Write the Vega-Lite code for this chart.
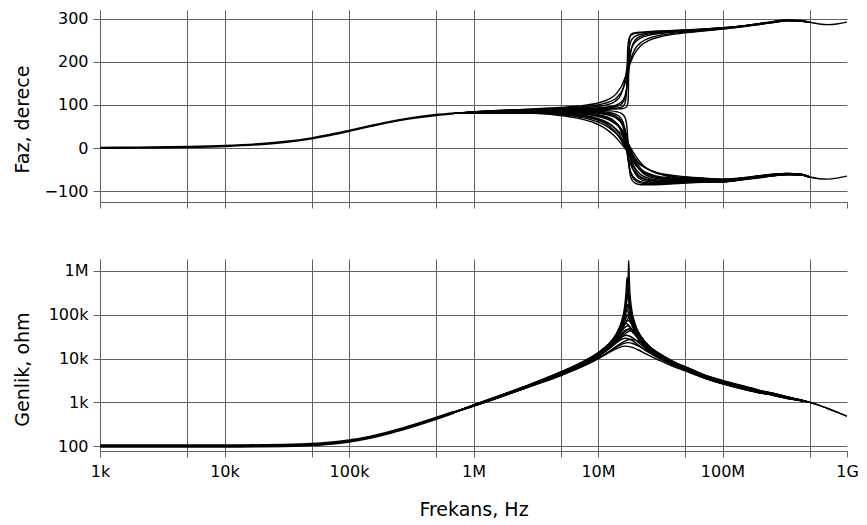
{
  "$schema": "https://vega.github.io/schema/vega-lite/v6.json",
  "padding": {"left": 12, "top": 10, "right": 5, "bottom": 5},
  "background": "white",
  "config": {
    "view": {"stroke": null},
    "font": "DejaVu Sans",
    "axis": {
      "labelFont": "DejaVu Sans", "labelFontSize": 16, "labelColor": "#000",
      "titleFont": "DejaVu Sans", "titleFontSize": 19, "titleFontWeight": "normal", "titleColor": "#000",
      "gridColor": "#616161", "gridOpacity": 1, "gridWidth": 1,
      "domainColor": "#616161", "tickColor": "#616161", "domainWidth": 1, "tickWidth": 1,
      "labelFlush": false, "labelOverlap": false
    }
  },
  "data": {"values": [
    {"r":0,"f":1000,"p":0.48,"m":100},{"r":0,"f":2000,"p":0.95,"m":100},{"r":0,"f":5000,"p":2.39,"m":100.1},{"r":0,"f":10000,"p":4.76,"m":100.3},{"r":0,"f":20000,"p":9.46,"m":101.4},{"r":0,"f":30000,"p":14.04,"m":103.1},{"r":0,"f":50000,"p":22.6,"m":108.3},{"r":0,"f":70000,"p":30.3,"m":115.8},{"r":0,"f":100000,"p":39.8,"m":130.2},{"r":0,"f":150000,"p":51.3,"m":160.1},{"r":0,"f":200000,"p":59,"m":194.4},{"r":0,"f":300000,"p":68.2,"m":269.3},{"r":0,"f":500000,"p":76.5,"m":428.5},{"r":0,"f":700000,"p":80.3,"m":591.9},

    {"r":1,"f":7e5,"p":80.3,"m":592},{"r":1,"f":1e6,"p":80.8,"m":817},{"r":1,"f":3e6,"p":80.4,"m":2405},{"r":1,"f":4.75e6,"p":75.9,"m":3836},{"r":1,"f":6.65e6,"p":69.95,"m":5638},{"r":1,"f":9.5e6,"p":57.5,"m":9094},{"r":1,"f":1.14e7,"p":45.75,"m":12184},{"r":1,"f":1.33e7,"p":30.35,"m":15641},{"r":1,"f":1.4725e7,"p":16.7,"m":17774},{"r":1,"f":1.6435e7,"p":-0.4,"m":19175},{"r":1,"f":1.8525e7,"p":-18.9,"m":18176},{"r":1,"f":2.09e7,"p":-34.5,"m":15860},{"r":1,"f":2.47e7,"p":-47.8,"m":12442},{"r":1,"f":3.04e7,"p":-57.6,"m":9365},{"r":1,"f":4e7,"p":-63.4,"m":6595},{"r":1,"f":5e7,"p":-66.4,"m":5244},{"r":1,"f":7e7,"p":-69.5,"m":3640},{"r":1,"f":1e8,"p":-71.8,"m":2639},{"r":1,"f":1.5e8,"p":-68.3,"m":1957},{"r":1,"f":2e8,"p":-63.8,"m":1628},{"r":1,"f":2.5e8,"p":-60.8,"m":1457},{"r":1,"f":3.3e8,"p":-58.6,"m":1222},{"r":1,"f":4.2e8,"p":-60.2,"m":1098},{"r":1,"f":5e8,"p":-67,"m":1000},

    {"r":2,"f":7e5,"p":80.3,"m":592},{"r":2,"f":1e6,"p":81.3,"m":823},{"r":2,"f":3e6,"p":82,"m":2451},{"r":2,"f":5.3e6,"p":78.7,"m":4429},{"r":2,"f":7.42e6,"p":74,"m":6606},{"r":2,"f":1.06e7,"p":63.6,"m":11054},{"r":2,"f":1.272e7,"p":52.8,"m":15418},{"r":2,"f":1.484e7,"p":37,"m":21001},{"r":2,"f":1.643e7,"p":21.2,"m":24997},{"r":2,"f":1.8338e7,"p":-0.4,"m":27506},{"r":2,"f":2.067e7,"p":-23.7,"m":25253},{"r":2,"f":2.332e7,"p":-41.45,"m":20716},{"r":2,"f":2.756e7,"p":-54.7,"m":15206},{"r":2,"f":3.392e7,"p":-63.2,"m":10986},{"r":2,"f":4e7,"p":-67.7,"m":8465},{"r":2,"f":5e7,"p":-69.8,"m":5978},{"r":2,"f":7e7,"p":-71.6,"m":3730},{"r":2,"f":1e8,"p":-73.4,"m":2704},{"r":2,"f":1.5e8,"p":-69.3,"m":2005},{"r":2,"f":2e8,"p":-64.5,"m":1658},{"r":2,"f":2.5e8,"p":-61.4,"m":1480},{"r":2,"f":3.3e8,"p":-59.1,"m":1237},{"r":2,"f":4.2e8,"p":-60.5,"m":1103},{"r":2,"f":5e8,"p":-67,"m":1000},

    {"r":3,"f":7e5,"p":80.3,"m":592},{"r":3,"f":1e6,"p":81.8,"m":829},{"r":3,"f":3e6,"p":83.45,"m":2495},{"r":3,"f":4.9e6,"p":81.1,"m":4220},{"r":3,"f":6.86e6,"p":77.6,"m":6367},{"r":3,"f":9.8e6,"p":69.4,"m":10958},{"r":3,"f":1.176e7,"p":60.3,"m":15841},{"r":3,"f":1.372e7,"p":45.2,"m":23104},{"r":3,"f":1.519e7,"p":27.4,"m":29525},{"r":3,"f":1.617e7,"p":12.4,"m":33067},{"r":3,"f":1.6954e7,"p":-0.4,"m":33906},{"r":3,"f":1.911e7,"p":-30.3,"m":29382},{"r":3,"f":2.156e7,"p":-49.7,"m":22088},{"r":3,"f":2.548e7,"p":-61.8,"m":15105},{"r":3,"f":3.136e7,"p":-68.55,"m":10540},{"r":3,"f":4e7,"p":-71.7,"m":7405},{"r":3,"f":5e7,"p":-72.8,"m":5645},{"r":3,"f":7e7,"p":-73.8,"m":3820},{"r":3,"f":1e8,"p":-74.8,"m":2770},{"r":3,"f":1.5e8,"p":-70.2,"m":2053},{"r":3,"f":2e8,"p":-65.2,"m":1689},{"r":3,"f":2.5e8,"p":-62,"m":1504},{"r":3,"f":3.3e8,"p":-59.6,"m":1251},{"r":3,"f":4.2e8,"p":-60.8,"m":1109},{"r":3,"f":5e8,"p":-67,"m":1000},

    {"r":4,"f":7e5,"p":80.3,"m":592},{"r":4,"f":1e6,"p":82.1,"m":836},{"r":4,"f":3e6,"p":84.5,"m":2536},{"r":4,"f":5.2e6,"p":83,"m":4601},{"r":4,"f":7.28e6,"p":80.4,"m":6995},{"r":4,"f":1.04e7,"p":74.1,"m":12249},{"r":4,"f":1.248e7,"p":66.8,"m":18125},{"r":4,"f":1.456e7,"p":53.3,"m":28002},{"r":4,"f":1.612e7,"p":34.7,"m":38928},{"r":4,"f":1.716e7,"p":16.4,"m":45907},{"r":4,"f":1.7992e7,"p":-0.4,"m":47979},{"r":4,"f":1.8928e7,"p":-18.4,"m":45628},{"r":4,"f":2.028e7,"p":-37.9,"m":38055},{"r":4,"f":2.288e7,"p":-57.5,"m":25973},{"r":4,"f":2.704e7,"p":-67.8,"m":16772},{"r":4,"f":3.328e7,"p":-72.8,"m":11445},{"r":4,"f":4e7,"p":-74.7,"m":8469},{"r":4,"f":5e7,"p":-75.1,"m":6115},{"r":4,"f":7e7,"p":-75.4,"m":3910},{"r":4,"f":1e8,"p":-75.9,"m":2835},{"r":4,"f":1.5e8,"p":-70.9,"m":2102},{"r":4,"f":2e8,"p":-65.9,"m":1719},{"r":4,"f":2.5e8,"p":-62.6,"m":1527},{"r":4,"f":3.3e8,"p":-60.1,"m":1266},{"r":4,"f":4.2e8,"p":-61.1,"m":1114},{"r":4,"f":5e8,"p":-67,"m":1000},

    {"r":5,"f":7e5,"p":80.3,"m":592},{"r":5,"f":1e6,"p":82.4,"m":842},{"r":5,"f":3e6,"p":85.4,"m":2578},{"r":5,"f":4.85e6,"p":84.6,"m":4401},{"r":5,"f":6.79e6,"p":82.9,"m":6728},{"r":5,"f":9.7e6,"p":78.4,"m":11920},{"r":5,"f":1.164e7,"p":72.9,"m":17920},{"r":5,"f":1.358e7,"p":62,"m":29084},{"r":5,"f":1.5035e7,"p":44.3,"m":44701},{"r":5,"f":1.6005e7,"p":22.7,"m":57889},{"r":5,"f":1.649e7,"p":8.5,"m":62153},{"r":5,"f":1.6781e7,"p":-0.4,"m":62937},{"r":5,"f":1.7072e7,"p":-9.2,"m":62181},{"r":5,"f":1.7654e7,"p":-24.9,"m":57246},{"r":5,"f":1.8915e7,"p":-47.55,"m":42752},{"r":5,"f":2.134e7,"p":-65.7,"m":26198},{"r":5,"f":2.522e7,"p":-73.4,"m":16138},{"r":5,"f":3.104e7,"p":-76.6,"m":10848},{"r":5,"f":4e7,"p":-77.4,"m":7454},{"r":5,"f":5e7,"p":-77.1,"m":5820},{"r":5,"f":7e7,"p":-76.75,"m":4000},{"r":5,"f":1e8,"p":-76.8,"m":2900},{"r":5,"f":1.5e8,"p":-71.5,"m":2150},{"r":5,"f":2e8,"p":-66.6,"m":1750},{"r":5,"f":2.5e8,"p":-63.2,"m":1550},{"r":5,"f":3.3e8,"p":-60.6,"m":1280},{"r":5,"f":4.2e8,"p":-61.4,"m":1120},{"r":5,"f":5e8,"p":-67,"m":1000},

    {"r":6,"f":7e5,"p":80.3,"m":592},{"r":6,"f":1e6,"p":82.7,"m":848},{"r":6,"f":3e6,"p":86.25,"m":2618},{"r":6,"f":5.1e6,"p":86.05,"m":4738},{"r":6,"f":7.14e6,"p":85.1,"m":7276},{"r":6,"f":1.02e7,"p":82.2,"m":12986},{"r":6,"f":1.224e7,"p":78.6,"m":19697},{"r":6,"f":1.428e7,"p":71,"m":33111},{"r":6,"f":1.581e7,"p":56.56,"m":56462},{"r":6,"f":1.683e7,"p":33.1,"m":85780},{"r":6,"f":1.734e7,"p":13.35,"m":100001},{"r":6,"f":1.7646e7,"p":-0.4,"m":102907},{"r":6,"f":1.7952e7,"p":-13.9,"m":100136},{"r":6,"f":1.8564e7,"p":-35.8,"m":83896},{"r":6,"f":1.989e7,"p":-59.6,"m":52652},{"r":6,"f":2.244e7,"p":-73.9,"m":29064},{"r":6,"f":2.652e7,"p":-78.6,"m":17307},{"r":6,"f":3.264e7,"p":-80,"m":11530},{"r":6,"f":4e7,"p":-79.8,"m":8317},{"r":6,"f":5e7,"p":-78.9,"m":6242},{"r":6,"f":7e7,"p":-77.95,"m":4090},{"r":6,"f":1e8,"p":-77.6,"m":2965},{"r":6,"f":1.5e8,"p":-72,"m":2198},{"r":6,"f":2e8,"p":-67.3,"m":1781},{"r":6,"f":2.5e8,"p":-63.8,"m":1573},{"r":6,"f":3.3e8,"p":-61.1,"m":1294},{"r":6,"f":4.2e8,"p":-61.7,"m":1126},{"r":6,"f":5e8,"p":-67,"m":1000},

    {"r":7,"f":7e5,"p":80.3,"m":592},{"r":7,"f":1e6,"p":82.9,"m":855},{"r":7,"f":3e6,"p":86.9,"m":2656},{"r":7,"f":4.95e6,"p":87.1,"m":4704},{"r":7,"f":6.93e6,"p":86.7,"m":7246},{"r":7,"f":9.9e6,"p":85.2,"m":12977},{"r":7,"f":1.188e7,"p":83.1,"m":19720},{"r":7,"f":1.386e7,"p":78.5,"m":33673},{"r":7,"f":1.5345e7,"p":68.8,"m":61544},{"r":7,"f":1.6335e7,"p":48.2,"m":113155},{"r":7,"f":1.683e7,"p":22.4,"m":157943},{"r":7,"f":1.7127e7,"p":-0.4,"m":171341},{"r":7,"f":1.7424e7,"p":-22.8,"m":158346},{"r":7,"f":1.8018e7,"p":-51,"m":108650},{"r":7,"f":1.9305e7,"p":-71.2,"m":56172},{"r":7,"f":2.178e7,"p":-80.6,"m":28984},{"r":7,"f":2.574e7,"p":-82.6,"m":16958},{"r":7,"f":3.168e7,"p":-82.6,"m":11264},{"r":7,"f":4e7,"p":-81.6,"m":7897},{"r":7,"f":5e7,"p":-80.3,"m":6178},{"r":7,"f":7e7,"p":-78.7,"m":4180},{"r":7,"f":1e8,"p":-78.2,"m":3031},{"r":7,"f":1.5e8,"p":-72.4,"m":2247},{"r":7,"f":2e8,"p":-68,"m":1811},{"r":7,"f":2.5e8,"p":-64.4,"m":1597},{"r":7,"f":3.3e8,"p":-61.6,"m":1309},{"r":7,"f":4.2e8,"p":-62,"m":1131},{"r":7,"f":5e8,"p":-67,"m":1000},

    {"r":8,"f":7e5,"p":80.3,"m":592},{"r":8,"f":1e6,"p":83,"m":861},{"r":8,"f":3e6,"p":87.3,"m":2695},{"r":8,"f":5.05e6,"p":87.9,"m":4904},{"r":8,"f":7.07e6,"p":87.9,"m":7574},{"r":8,"f":1.01e7,"p":87.3,"m":13580},{"r":8,"f":1.212e7,"p":86.4,"m":20605},{"r":8,"f":1.414e7,"p":84.15,"m":35272},{"r":8,"f":1.5655e7,"p":79.3,"m":66533},{"r":8,"f":1.6665e7,"p":66.7,"m":141565},{"r":8,"f":1.717e7,"p":40.8,"m":274112},{"r":8,"f":1.7473e7,"p":-0.4,"m":364029},{"r":8,"f":1.7776e7,"p":-41.1,"m":276374},{"r":8,"f":1.8382e7,"p":-68.9,"m":133438},{"r":8,"f":1.9695e7,"p":-80.9,"m":59856},{"r":8,"f":2.222e7,"p":-85,"m":29899},{"r":8,"f":2.626e7,"p":-85,"m":17366},{"r":8,"f":3.232e7,"p":-84.5,"m":11542},{"r":8,"f":4e7,"p":-83,"m":8260},{"r":8,"f":5e7,"p":-81.2,"m":6424},{"r":8,"f":7e7,"p":-79.3,"m":4270},{"r":8,"f":1e8,"p":-78.6,"m":3096},{"r":8,"f":1.5e8,"p":-72.7,"m":2295},{"r":8,"f":2e8,"p":-68.7,"m":1842},{"r":8,"f":2.5e8,"p":-65,"m":1620},{"r":8,"f":3.3e8,"p":-62.1,"m":1323},{"r":8,"f":4.2e8,"p":-62.3,"m":1137},{"r":8,"f":5e8,"p":-67,"m":1000},

    {"r":9,"f":7e5,"p":80.3,"m":592},{"r":9,"f":1e6,"p":84.2,"m":821},{"r":9,"f":3e6,"p":90.9,"m":2444},{"r":9,"f":5e6,"p":94.3,"m":4180},{"r":9,"f":7e6,"p":97.6,"m":6312},{"r":9,"f":1e7,"p":104.5,"m":11053},{"r":9,"f":1.2e7,"p":112.1,"m":16575},{"r":9,"f":1.4e7,"p":125.7,"m":26107},{"r":9,"f":1.55e7,"p":144.4,"m":36752},{"r":9,"f":1.65e7,"p":162.7,"m":44141},{"r":9,"f":1.73e7,"p":179.6,"m":46134},{"r":9,"f":1.82e7,"p":197.6,"m":43873},{"r":9,"f":1.95e7,"p":217.2,"m":36591},{"r":9,"f":2.2e7,"p":236.9,"m":24974},{"r":9,"f":2.6e7,"p":250.3,"m":16127},{"r":9,"f":3.2e7,"p":258.4,"m":10939},{"r":9,"f":4e7,"p":263.4,"m":7735},{"r":9,"f":5e7,"p":266.9,"m":5592},{"r":9,"f":7e7,"p":271.2,"m":3694},{"r":9,"f":1e8,"p":275.7,"m":2678},{"r":9,"f":1.5e8,"p":281.9,"m":1986},{"r":9,"f":2e8,"p":286.5,"m":1646},{"r":9,"f":2.5e8,"p":290.5,"m":1471},{"r":9,"f":3.3e8,"p":294.8,"m":1231},{"r":9,"f":4.2e8,"p":294.2,"m":1101},{"r":9,"f":5e8,"p":291.5,"m":1000},

    {"r":10,"f":7e5,"p":80.3,"m":592},{"r":10,"f":1e6,"p":83.6,"m":833},{"r":10,"f":3e6,"p":89.2,"m":2525},{"r":10,"f":4.9e6,"p":91.2,"m":4312},{"r":10,"f":6.86e6,"p":93,"m":6581},{"r":10,"f":9.8e6,"p":96.4,"m":11745},{"r":10,"f":1.176e7,"p":100.2,"m":18034},{"r":10,"f":1.372e7,"p":108,"m":30870},{"r":10,"f":1.519e7,"p":122.6,"m":53279},{"r":10,"f":1.617e7,"p":146,"m":82416},{"r":10,"f":1.666e7,"p":165.85,"m":96079},{"r":10,"f":1.6954e7,"p":179.6,"m":98871},{"r":10,"f":1.7248e7,"p":193.15,"m":96210},{"r":10,"f":1.7836e7,"p":215,"m":80606},{"r":10,"f":1.911e7,"p":238.9,"m":50588},{"r":10,"f":2.156e7,"p":253.3,"m":27924},{"r":10,"f":2.548e7,"p":261.1,"m":16629},{"r":10,"f":3.136e7,"p":265.6,"m":11012},{"r":10,"f":4e7,"p":268.5,"m":7585},{"r":10,"f":5e7,"p":270.65,"m":5715},{"r":10,"f":7e7,"p":273.75,"m":3874},{"r":10,"f":1e8,"p":277.5,"m":2809},{"r":10,"f":1.5e8,"p":283,"m":2082},{"r":10,"f":2e8,"p":287.3,"m":1707},{"r":10,"f":2.5e8,"p":291.3,"m":1517},{"r":10,"f":3.3e8,"p":295.5,"m":1260},{"r":10,"f":4.2e8,"p":294.6,"m":1112},{"r":10,"f":5e8,"p":291.5,"m":1000},

    {"r":11,"f":7e5,"p":80.3,"m":592},{"r":11,"f":1e6,"p":83.4,"m":846},{"r":11,"f":3e6,"p":88.6,"m":2602},{"r":11,"f":5.1e6,"p":90.1,"m":4700},{"r":11,"f":7.14e6,"p":91.3,"m":7217},{"r":11,"f":1.02e7,"p":93.45,"m":12924},{"r":11,"f":1.224e7,"p":95.8,"m":19771},{"r":11,"f":1.428e7,"p":100.6,"m":34101},{"r":11,"f":1.581e7,"p":110.3,"m":62753},{"r":11,"f":1.683e7,"p":130.9,"m":116584},{"r":11,"f":1.734e7,"p":156.8,"m":162729},{"r":11,"f":1.7646e7,"p":179.6,"m":176533},{"r":11,"f":1.7952e7,"p":202,"m":163144},{"r":11,"f":1.8564e7,"p":230.2,"m":111942},{"r":11,"f":1.989e7,"p":250.5,"m":57874},{"r":11,"f":2.244e7,"p":259.95,"m":29863},{"r":11,"f":2.652e7,"p":265.1,"m":17472},{"r":11,"f":3.264e7,"p":268.15,"m":11565},{"r":11,"f":4e7,"p":270.3,"m":8324},{"r":11,"f":5e7,"p":272,"m":6193},{"r":11,"f":7e7,"p":274.6,"m":4054},{"r":11,"f":1e8,"p":278.1,"m":2939},{"r":11,"f":1.5e8,"p":283.4,"m":2179},{"r":11,"f":2e8,"p":288,"m":1768},{"r":11,"f":2.5e8,"p":292,"m":1564},{"r":11,"f":3.3e8,"p":296,"m":1289},{"r":11,"f":4.2e8,"p":295,"m":1123},{"r":11,"f":5e8,"p":291.5,"m":1000},

    {"r":12,"f":7e5,"p":80.3,"m":592},{"r":12,"f":1e6,"p":83.2,"m":857},{"r":12,"f":3e6,"p":87.9,"m":2672},{"r":12,"f":4.95e6,"p":89,"m":4746},{"r":12,"f":6.93e6,"p":89.6,"m":7321},{"r":12,"f":9.9e6,"p":90.3,"m":13132},{"r":12,"f":1.188e7,"p":91,"m":19987},{"r":12,"f":1.386e7,"p":92.2,"m":34433},{"r":12,"f":1.5345e7,"p":94.75,"m":65715},{"r":12,"f":1.6335e7,"p":101.5,"m":147481},{"r":12,"f":1.683e7,"p":119.4,"m":354354},{"r":12,"f":1.69785e7,"p":138.6,"m":538362},{"r":12,"f":1.7127e7,"p":179.6,"m":713642},{"r":12,"f":1.72755e7,"p":220.4,"m":540243},{"r":12,"f":1.7424e7,"p":239.4,"m":359147},{"r":12,"f":1.8018e7,"p":258.5,"m":138009},{"r":12,"f":1.9305e7,"p":264.9,"m":59276},{"r":12,"f":2.178e7,"p":267.3,"m":29383},{"r":12,"f":2.574e7,"p":269.4,"m":17036},{"r":12,"f":3.168e7,"p":270.9,"m":11297},{"r":12,"f":4e7,"p":272.2,"m":7912},{"r":12,"f":5e7,"p":273.4,"m":6225},{"r":12,"f":7e7,"p":275.6,"m":4216},{"r":12,"f":1e8,"p":278.7,"m":3057},{"r":12,"f":1.5e8,"p":283.8,"m":2266},{"r":12,"f":2e8,"p":288.5,"m":1824},{"r":12,"f":2.5e8,"p":292.5,"m":1606},{"r":12,"f":3.3e8,"p":296.4,"m":1315},{"r":12,"f":4.2e8,"p":295.3,"m":1133},{"r":12,"f":5e8,"p":291.5,"m":1000},

    {"r":13,"f":7e5,"p":80.3,"m":592},{"r":13,"f":1e6,"p":83.2,"m":867},{"r":13,"f":3e6,"p":87.8,"m":2734},{"r":13,"f":5.1e6,"p":88.8,"m":5056},{"r":13,"f":7.14e6,"p":89.3,"m":7827},{"r":13,"f":1.02e7,"p":89.7,"m":14042},{"r":13,"f":1.224e7,"p":90.1,"m":21228},{"r":13,"f":1.428e7,"p":90.65,"m":36200},{"r":13,"f":1.581e7,"p":91.8,"m":68743},{"r":13,"f":1.683e7,"p":94.7,"m":154631},{"r":13,"f":1.734e7,"p":103.2,"m":408779},{"r":13,"f":1.7493e7,"p":115.6,"m":759696},{"r":13,"f":1.7646e7,"p":179.6,"m":1735143},{"r":13,"f":1.7799e7,"p":243.5,"m":764969},{"r":13,"f":1.7952e7,"p":255.8,"m":415220},{"r":13,"f":1.8564e7,"p":264.85,"m":144421},{"r":13,"f":1.989e7,"p":267.6,"m":61235},{"r":13,"f":2.244e7,"p":268.7,"m":30299},{"r":13,"f":2.652e7,"p":270.2,"m":17558},{"r":13,"f":3.264e7,"p":271.4,"m":11685},{"r":13,"f":4e7,"p":272.6,"m":8466},{"r":13,"f":5e7,"p":273.7,"m":6610},{"r":13,"f":7e7,"p":275.8,"m":4360},{"r":13,"f":1e8,"p":278.8,"m":3161},{"r":13,"f":1.5e8,"p":283.9,"m":2344},{"r":13,"f":2e8,"p":289,"m":1873},{"r":13,"f":2.5e8,"p":293,"m":1643},{"r":13,"f":3.3e8,"p":296.8,"m":1338},{"r":13,"f":4.2e8,"p":295.6,"m":1142},{"r":13,"f":5e8,"p":291.5,"m":1000},

    {"r":14,"f":5e8,"p":-67,"m":1000},{"r":14,"f":6e8,"p":-71,"m":850},{"r":14,"f":7e8,"p":-72,"m":720},{"r":14,"f":8.5e8,"p":-69,"m":580},{"r":14,"f":1e9,"p":-65,"m":480},
    {"r":15,"f":5e8,"p":291.5,"m":1000},{"r":15,"f":6e8,"p":287.5,"m":850},{"r":15,"f":7e8,"p":286,"m":720},{"r":15,"f":8.5e8,"p":288,"m":580},{"r":15,"f":1e9,"p":292,"m":480},

    {"r":16,"f":7e5,"p":80.3,"m":592},{"r":16,"f":1e6,"p":81.05,"m":820},{"r":16,"f":3e6,"p":81.2,"m":2428},{"r":16,"f":5e6,"p":77.3,"m":4108},{"r":16,"f":7e6,"p":71.98,"m":6084},{"r":16,"f":1e7,"p":60.55,"m":10000},{"r":16,"f":1.2e7,"p":49.28,"m":13685},{"r":16,"f":1.4e7,"p":33.68,"m":18138},{"r":16,"f":1.55e7,"p":18.95,"m":21146},{"r":16,"f":1.73e7,"p":-0.4,"m":23067},{"r":16,"f":1.95e7,"p":-21.3,"m":21479},{"r":16,"f":2.2e7,"p":-37.98,"m":18119},{"r":16,"f":2.6e7,"p":-51.25,"m":13721},{"r":16,"f":3.2e7,"p":-60.4,"m":10111},{"r":16,"f":4e7,"p":-65.55,"m":7421},{"r":16,"f":5e7,"p":-68.1,"m":5580},{"r":16,"f":7e7,"p":-70.55,"m":3685},{"r":16,"f":1e8,"p":-72.6,"m":2672},{"r":16,"f":1.5e8,"p":-68.8,"m":1981},{"r":16,"f":2e8,"p":-64.15,"m":1643},{"r":16,"f":2.5e8,"p":-61.1,"m":1469},{"r":16,"f":3.3e8,"p":-58.85,"m":1230},{"r":16,"f":4.2e8,"p":-60.35,"m":1101},{"r":16,"f":5e8,"p":-67,"m":1000},

    {"r":17,"f":7e5,"p":80.3,"m":592},{"r":17,"f":1e6,"p":81.55,"m":826},{"r":17,"f":3e6,"p":82.73,"m":2473},{"r":17,"f":4.8e6,"p":79.9,"m":4072},{"r":17,"f":6.72e6,"p":75.8,"m":6110},{"r":17,"f":9.6e6,"p":66.5,"m":10373},{"r":17,"f":1.152e7,"p":56.55,"m":14741},{"r":17,"f":1.344e7,"p":41.1,"m":20826},{"r":17,"f":1.488e7,"p":24.3,"m":25781},{"r":17,"f":1.6608e7,"p":-0.4,"m":29063},{"r":17,"f":1.872e7,"p":-27,"m":25827},{"r":17,"f":2.112e7,"p":-45.58,"m":20199},{"r":17,"f":2.496e7,"p":-58.25,"m":14284},{"r":17,"f":3.072e7,"p":-65.88,"m":10138},{"r":17,"f":4e7,"p":-69.7,"m":7024},{"r":17,"f":5e7,"p":-71.3,"m":5472},{"r":17,"f":7e7,"p":-72.7,"m":3775},{"r":17,"f":1e8,"p":-74.1,"m":2737},{"r":17,"f":1.5e8,"p":-69.75,"m":2029},{"r":17,"f":2e8,"p":-64.85,"m":1674},{"r":17,"f":2.5e8,"p":-61.7,"m":1492},{"r":17,"f":3.3e8,"p":-59.35,"m":1244},{"r":17,"f":4.2e8,"p":-60.65,"m":1106},{"r":17,"f":5e8,"p":-67,"m":1000},

    {"r":18,"f":7e5,"p":80.3,"m":592},{"r":18,"f":1e6,"p":81.95,"m":833},{"r":18,"f":3e6,"p":83.98,"m":2516},{"r":18,"f":5.25e6,"p":82.05,"m":4583},{"r":18,"f":7.35e6,"p":79,"m":6943},{"r":18,"f":1.05e7,"p":71.75,"m":12054},{"r":18,"f":1.26e7,"p":63.55,"m":17636},{"r":18,"f":1.47e7,"p":49.25,"m":26514},{"r":18,"f":1.6275e7,"p":31.05,"m":35469},{"r":18,"f":1.7325e7,"p":14.4,"m":40889},{"r":18,"f":1.8165e7,"p":-0.4,"m":42384},{"r":18,"f":2.0475e7,"p":-34.1,"m":34951},{"r":18,"f":2.31e7,"p":-53.6,"m":24945},{"r":18,"f":2.73e7,"p":-64.8,"m":16559},{"r":18,"f":3.36e7,"p":-70.68,"m":11424},{"r":18,"f":4e7,"p":-73.2,"m":8566},{"r":18,"f":5e7,"p":-73.95,"m":6111},{"r":18,"f":7e7,"p":-74.6,"m":3865},{"r":18,"f":1e8,"p":-75.35,"m":2803},{"r":18,"f":1.5e8,"p":-70.55,"m":2078},{"r":18,"f":2e8,"p":-65.55,"m":1704},{"r":18,"f":2.5e8,"p":-62.3,"m":1516},{"r":18,"f":3.3e8,"p":-59.85,"m":1259},{"r":18,"f":4.2e8,"p":-60.95,"m":1112},{"r":18,"f":5e8,"p":-67,"m":1000},

    {"r":19,"f":7e5,"p":80.3,"m":592},{"r":19,"f":1e6,"p":82.25,"m":839},{"r":19,"f":3e6,"p":84.95,"m":2557},{"r":19,"f":5e6,"p":83.8,"m":4481},{"r":19,"f":7e6,"p":81.65,"m":6831},{"r":19,"f":1e7,"p":76.25,"m":12034},{"r":19,"f":1.2e7,"p":69.85,"m":17951},{"r":19,"f":1.4e7,"p":57.65,"m":28455},{"r":19,"f":1.55e7,"p":39.5,"m":41757},{"r":19,"f":1.65e7,"p":19.55,"m":51910},{"r":19,"f":1.73e7,"p":-0.4,"m":55509},{"r":19,"f":1.82e7,"p":-21.65,"m":51445},{"r":19,"f":1.95e7,"p":-42.73,"m":40333},{"r":19,"f":2.2e7,"p":-61.6,"m":25991},{"r":19,"f":2.6e7,"p":-70.6,"m":16382},{"r":19,"f":3.2e7,"p":-74.7,"m":11094},{"r":19,"f":4e7,"p":-76.05,"m":7876},{"r":19,"f":5e7,"p":-76.1,"m":5940},{"r":19,"f":7e7,"p":-76.08,"m":3955},{"r":19,"f":1e8,"p":-76.35,"m":2868},{"r":19,"f":1.5e8,"p":-71.2,"m":2126},{"r":19,"f":2e8,"p":-66.25,"m":1735},{"r":19,"f":2.5e8,"p":-62.9,"m":1539},{"r":19,"f":3.3e8,"p":-60.35,"m":1273},{"r":19,"f":4.2e8,"p":-61.25,"m":1117},{"r":19,"f":5e8,"p":-67,"m":1000},

    {"r":20,"f":7e5,"p":80.3,"m":592},{"r":20,"f":1e6,"p":82.55,"m":845},{"r":20,"f":3e6,"p":85.83,"m":2598},{"r":20,"f":5.15e6,"p":85.33,"m":4729},{"r":20,"f":7.21e6,"p":84,"m":7246},{"r":20,"f":1.03e7,"p":80.3,"m":12885},{"r":20,"f":1.236e7,"p":75.75,"m":19460},{"r":20,"f":1.442e7,"p":66.5,"m":32160},{"r":20,"f":1.5965e7,"p":50.43,"m":52241},{"r":20,"f":1.6995e7,"p":27.9,"m":74046},{"r":20,"f":1.751e7,"p":10.93,"m":83490},{"r":20,"f":1.7819e7,"p":-0.4,"m":85373},{"r":20,"f":1.8128e7,"p":-11.55,"m":83573},{"r":20,"f":1.8746e7,"p":-30.35,"m":72753},{"r":20,"f":2.0085e7,"p":-53.58,"m":49282},{"r":20,"f":2.266e7,"p":-69.8,"m":28584},{"r":20,"f":2.678e7,"p":-76,"m":17307},{"r":20,"f":3.296e7,"p":-78.3,"m":11581},{"r":20,"f":4e7,"p":-78.6,"m":8443},{"r":20,"f":5e7,"p":-78,"m":6242},{"r":20,"f":7e7,"p":-77.35,"m":4045},{"r":20,"f":1e8,"p":-77.2,"m":2933},{"r":20,"f":1.5e8,"p":-71.75,"m":2174},{"r":20,"f":2e8,"p":-66.95,"m":1766},{"r":20,"f":2.5e8,"p":-63.5,"m":1562},{"r":20,"f":3.3e8,"p":-60.85,"m":1287},{"r":20,"f":4.2e8,"p":-61.55,"m":1123},{"r":20,"f":5e8,"p":-67,"m":1000},

    {"r":21,"f":7e5,"p":80.3,"m":592},{"r":21,"f":1e6,"p":82.8,"m":852},{"r":21,"f":3e6,"p":86.58,"m":2637},{"r":21,"f":4.9e6,"p":86.58,"m":4605},{"r":21,"f":6.86e6,"p":85.9,"m":7081},{"r":21,"f":9.8e6,"p":83.7,"m":12662},{"r":21,"f":1.176e7,"p":80.85,"m":19223},{"r":21,"f":1.372e7,"p":74.75,"m":32573},{"r":21,"f":1.519e7,"p":62.68,"m":57586},{"r":21,"f":1.617e7,"p":40.65,"m":97214},{"r":21,"f":1.666e7,"p":17.88,"m":126213},{"r":21,"f":1.6954e7,"p":-0.4,"m":134241},{"r":21,"f":1.7248e7,"p":-18.35,"m":126478},{"r":21,"f":1.7836e7,"p":-43.4,"m":94079},{"r":21,"f":1.911e7,"p":-65.4,"m":53096},{"r":21,"f":2.156e7,"p":-77.25,"m":28308},{"r":21,"f":2.548e7,"p":-80.6,"m":16708},{"r":21,"f":3.136e7,"p":-81.3,"m":11114},{"r":21,"f":4e7,"p":-80.7,"m":7708},{"r":21,"f":5e7,"p":-79.6,"m":6056},{"r":21,"f":7e7,"p":-78.33,"m":4135},{"r":21,"f":1e8,"p":-77.9,"m":2998},{"r":21,"f":1.5e8,"p":-72.2,"m":2223},{"r":21,"f":2e8,"p":-67.65,"m":1796},{"r":21,"f":2.5e8,"p":-64.1,"m":1585},{"r":21,"f":3.3e8,"p":-61.35,"m":1302},{"r":21,"f":4.2e8,"p":-61.85,"m":1129},{"r":21,"f":5e8,"p":-67,"m":1000},

    {"r":22,"f":7e5,"p":80.3,"m":592},{"r":22,"f":1e6,"p":83.9,"m":827},{"r":22,"f":3e6,"p":90.05,"m":2485},{"r":22,"f":5.05e6,"p":92.75,"m":4333},{"r":22,"f":7.07e6,"p":95.3,"m":6579},{"r":22,"f":1.01e7,"p":100.45,"m":11634},{"r":22,"f":1.212e7,"p":106.15,"m":17664},{"r":22,"f":1.414e7,"p":116.85,"m":29092},{"r":22,"f":1.5655e7,"p":133.5,"m":46015},{"r":22,"f":1.6665e7,"p":154.35,"m":64761},{"r":22,"f":1.7473e7,"p":179.6,"m":74247},{"r":22,"f":1.8382e7,"p":206.3,"m":63693},{"r":22,"f":1.9695e7,"p":228.05,"m":44547},{"r":22,"f":2.222e7,"p":245.1,"m":27001},{"r":22,"f":2.626e7,"p":255.7,"m":16713},{"r":22,"f":3.232e7,"p":262,"m":11199},{"r":22,"f":4e7,"p":265.95,"m":7973},{"r":22,"f":5e7,"p":268.78,"m":5769},{"r":22,"f":7e7,"p":272.48,"m":3784},{"r":22,"f":1e8,"p":276.6,"m":2744},{"r":22,"f":1.5e8,"p":282.45,"m":2034},{"r":22,"f":2e8,"p":286.9,"m":1677},{"r":22,"f":2.5e8,"p":290.9,"m":1494},{"r":22,"f":3.3e8,"p":295.15,"m":1246},{"r":22,"f":4.2e8,"p":294.4,"m":1107},{"r":22,"f":5e8,"p":291.5,"m":1000},

    {"r":23,"f":7e5,"p":80.3,"m":592},{"r":23,"f":1e6,"p":83.3,"m":852},{"r":23,"f":3e6,"p":88.25,"m":2637},{"r":23,"f":5e6,"p":89.55,"m":4701},{"r":23,"f":7e6,"p":90.45,"m":7235},{"r":23,"f":1e7,"p":91.88,"m":12968},{"r":23,"f":1.2e7,"p":93.4,"m":19786},{"r":23,"f":1.4e7,"p":96.4,"m":34107},{"r":23,"f":1.55e7,"p":102.53,"m":63951},{"r":23,"f":1.65e7,"p":116.2,"m":131635},{"r":23,"f":1.7e7,"p":138.1,"m":258736},{"r":23,"f":1.73e7,"p":179.6,"m":446961},{"r":23,"f":1.76e7,"p":220.7,"m":261360},{"r":23,"f":1.82e7,"p":244.35,"m":124575},{"r":23,"f":1.95e7,"p":257.7,"m":58307},{"r":23,"f":2.2e7,"p":263.63,"m":29479},{"r":23,"f":2.6e7,"p":267.25,"m":17169},{"r":23,"f":3.2e7,"p":269.53,"m":11375},{"r":23,"f":4e7,"p":271.25,"m":8037},{"r":23,"f":5e7,"p":272.7,"m":6180},{"r":23,"f":7e7,"p":275.1,"m":4135},{"r":23,"f":1e8,"p":278.4,"m":2998},{"r":23,"f":1.5e8,"p":283.6,"m":2223},{"r":23,"f":2e8,"p":288.25,"m":1796},{"r":23,"f":2.5e8,"p":292.25,"m":1585},{"r":23,"f":3.3e8,"p":296.2,"m":1302},{"r":23,"f":4.2e8,"p":295.15,"m":1128},{"r":23,"f":5e8,"p":291.5,"m":1000}
  ]},
  "spacing": 50,
  "vconcat": [
    {
      "width": 747, "height": 192,
      "mark": {"type": "line", "interpolate": "monotone", "color": "black", "clip": true},
      "encoding": {
        "x": {"field": "f", "type": "quantitative",
              "scale": {"type": "log", "domain": [1000, 1000000000], "nice": false},
              "axis": {"values": [1000,5000,10000,50000,100000,500000,1000000,5000000,10000000,50000000,100000000,500000000,1000000000],
                       "labels": false, "title": null, "tickSize": 6,
                       "gridOpacity": {"condition": {"test": "datum.value > 900000000", "value": 0}, "value": 1}}},
        "y": {"field": "p", "type": "quantitative",
              "scale": {"domain": [-125, 320], "nice": false, "zero": false},
              "axis": {"values": [-100, 0, 100, 200, 300], "title": "Faz, derece", "tickSize": 7, "labelPadding": 5,
                       "titleX": -72, "titleY": 109, "titleAngle": -90, "titleBaseline": "alphabetic", "titleAlign": "center"}},
        "detail": {"field": "r", "type": "nominal"},
        "strokeWidth": {"condition": {"test": "datum.r === 0", "value": 2.4}, "value": 1.4}
      }
    },
    {
      "width": 747, "height": 192,
      "mark": {"type": "line", "interpolate": "monotone", "color": "black", "clip": true},
      "encoding": {
        "x": {"field": "f", "type": "quantitative",
              "scale": {"type": "log", "domain": [1000, 1000000000], "nice": false},
              "axis": {"values": [1000,5000,10000,50000,100000,500000,1000000,5000000,10000000,50000000,100000000,500000000,1000000000],
                       "format": "~s",
                       "labelExpr": "indexof(['1k','10k','100k','1M','10M','100M','1G'], datum.label) >= 0 ? datum.label : ''",
                       "title": "Frekans, Hz", "tickSize": 6, "labelPadding": 6, "titlePadding": 21,
                       "gridOpacity": {"condition": {"test": "datum.value > 900000000", "value": 0}, "value": 1}}},
        "y": {"field": "m", "type": "quantitative",
              "scale": {"type": "log", "domain": [77, 1880000], "nice": false},
              "axis": {"values": [100, 1000, 10000, 100000, 1000000], "format": "~s", "title": "Genlik, ohm",
                       "tickSize": 7, "labelPadding": 5,
                       "titleX": -72, "titleY": 110, "titleAngle": -90, "titleBaseline": "alphabetic", "titleAlign": "center"}},
        "detail": {"field": "r", "type": "nominal"},
        "strokeWidth": {"condition": {"test": "datum.r === 0", "value": 3.4}, "value": 1.4}
      }
    }
  ]
}
